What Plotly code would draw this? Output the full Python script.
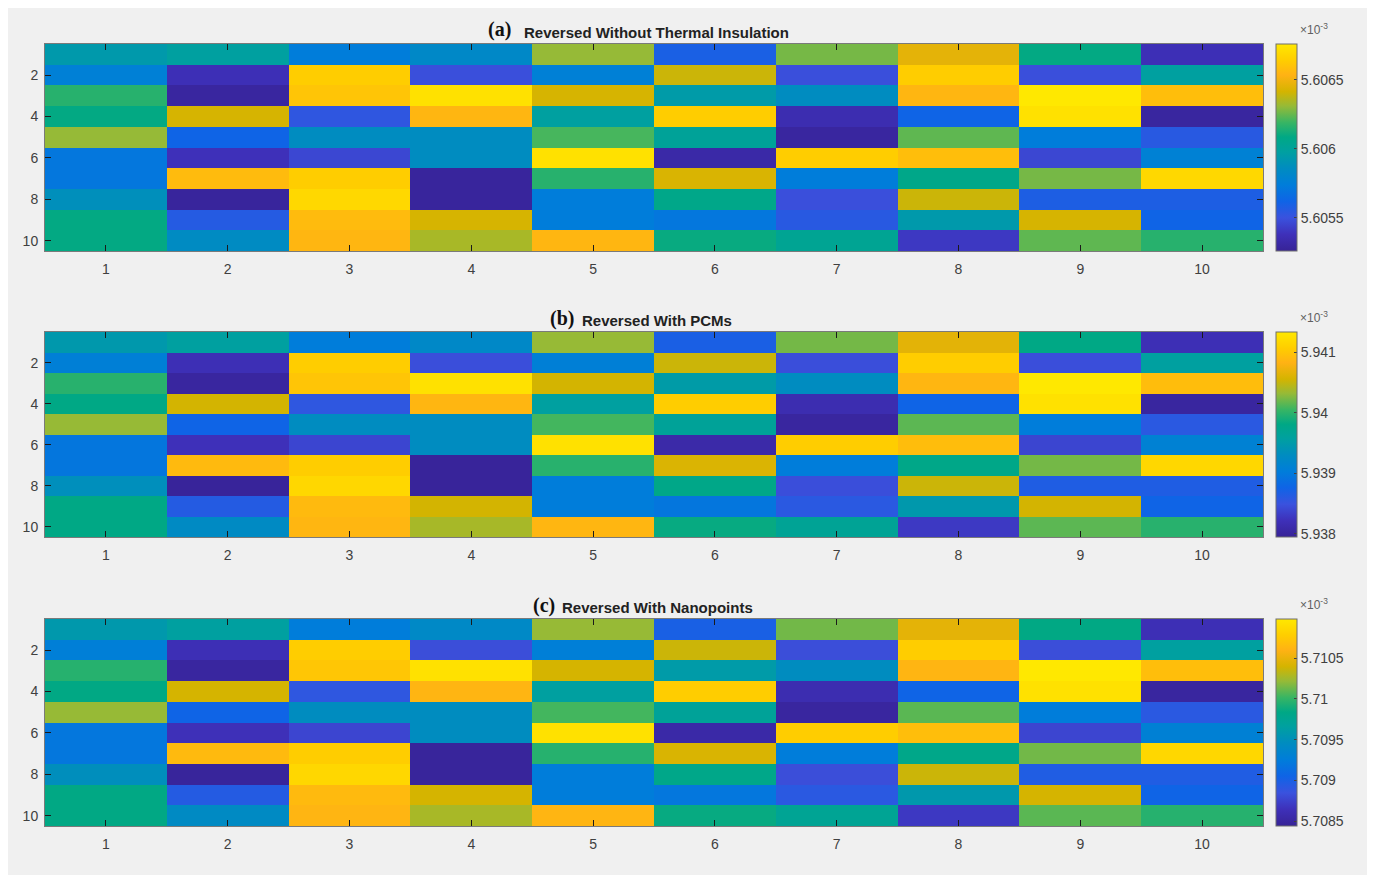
import plotly.graph_objects as go

rows = list(range(1, 11))
cols = list(range(1, 11))

# Panel (a) values (x10^-3)
vals_a = [
    [5.60594, 5.60598, 5.60574, 5.60583, 5.60631, 5.60559, 5.60627, 5.60646, 5.60609, 5.60537],
    [5.60576, 5.60537, 5.60664, 5.60549, 5.60576, 5.60640, 5.60549, 5.60664, 5.60549, 5.60598],
    [5.60616, 5.60529, 5.60661, 5.60673, 5.60642, 5.60595, 5.60586, 5.60655, 5.60676, 5.60658],
    [5.60609, 5.60642, 5.60553, 5.60655, 5.60598, 5.60664, 5.60535, 5.60562, 5.60673, 5.60529],
    [5.60631, 5.60562, 5.60586, 5.60586, 5.60621, 5.60601, 5.60529, 5.60624, 5.60574, 5.60555],
    [5.60571, 5.60538, 5.60546, 5.60586, 5.60673, 5.60532, 5.60664, 5.60658, 5.60546, 5.60577],
    [5.60571, 5.60657, 5.60664, 5.60528, 5.60616, 5.60643, 5.60574, 5.60607, 5.60627, 5.60669],
    [5.60588, 5.60528, 5.60669, 5.60528, 5.60574, 5.60607, 5.60549, 5.60640, 5.60558, 5.60558],
    [5.60609, 5.60556, 5.60657, 5.60642, 5.60574, 5.60571, 5.60555, 5.60594, 5.60642, 5.60562],
    [5.60609, 5.60585, 5.60655, 5.60634, 5.60655, 5.60610, 5.60603, 5.60541, 5.60624, 5.60616],
]
# Panel (b) values (x10^-3)
vals_b = [
    [5.93947, 5.93957, 5.93903, 5.93923, 5.94032, 5.93869, 5.94022, 5.94065, 5.93981, 5.93819],
    [5.93907, 5.93819, 5.94106, 5.93846, 5.93907, 5.94052, 5.93846, 5.94106, 5.93846, 5.93957],
    [5.93998, 5.93802, 5.94099, 5.94126, 5.94055, 5.93951, 5.93930, 5.94086, 5.94133, 5.94092],
    [5.93981, 5.94055, 5.93856, 5.94086, 5.93957, 5.94106, 5.93815, 5.93876, 5.94126, 5.93802],
    [5.94032, 5.93876, 5.93930, 5.93930, 5.94008, 5.93964, 5.93802, 5.94015, 5.93903, 5.93859],
    [5.93896, 5.93822, 5.93839, 5.93930, 5.94126, 5.93809, 5.94106, 5.94092, 5.93839, 5.93910],
    [5.93896, 5.94089, 5.94106, 5.93798, 5.93998, 5.94059, 5.93903, 5.93978, 5.94022, 5.94116],
    [5.93934, 5.93798, 5.94116, 5.93798, 5.93903, 5.93978, 5.93846, 5.94052, 5.93866, 5.93866],
    [5.93981, 5.93863, 5.94089, 5.94055, 5.93903, 5.93896, 5.93859, 5.93947, 5.94055, 5.93876],
    [5.93981, 5.93927, 5.94086, 5.94038, 5.94086, 5.93984, 5.93967, 5.93829, 5.94015, 5.93998],
]
# Panel (c) values (x10^-3)
vals_c = [
    [5.70958, 5.70966, 5.70925, 5.70941, 5.71022, 5.70900, 5.71014, 5.71047, 5.70984, 5.70862],
    [5.70928, 5.70862, 5.71078, 5.70882, 5.70928, 5.71037, 5.70882, 5.71078, 5.70882, 5.70966],
    [5.70996, 5.70849, 5.71073, 5.71093, 5.71040, 5.70961, 5.70946, 5.71062, 5.71098, 5.71068],
    [5.70984, 5.71040, 5.70890, 5.71062, 5.70966, 5.71078, 5.70859, 5.70905, 5.71093, 5.70849],
    [5.71022, 5.70905, 5.70946, 5.70946, 5.71004, 5.70971, 5.70849, 5.71009, 5.70925, 5.70892],
    [5.70920, 5.70864, 5.70877, 5.70946, 5.71093, 5.70854, 5.71078, 5.71068, 5.70877, 5.70930],
    [5.70920, 5.71065, 5.71078, 5.70847, 5.70996, 5.71042, 5.70925, 5.70981, 5.71014, 5.71085],
    [5.70948, 5.70847, 5.71085, 5.70847, 5.70925, 5.70981, 5.70882, 5.71037, 5.70897, 5.70897],
    [5.70984, 5.70895, 5.71065, 5.71040, 5.70925, 5.70920, 5.70892, 5.70958, 5.71040, 5.70905],
    [5.70984, 5.70943, 5.71062, 5.71027, 5.71062, 5.70986, 5.70974, 5.70869, 5.71009, 5.70996],
]

ranges = {"a": (5.60526, 5.60676), "b": (5.93795, 5.94133), "c": (5.70844, 5.71098)}
cb_ticks = {
    "a": ([5.6055, 5.606, 5.6065], ["5.6055", "5.606", "5.6065"]),
    "b": ([5.938, 5.939, 5.94, 5.941], ["5.938", "5.939", "5.94", "5.941"]),
    "c": ([5.7085, 5.709, 5.7095, 5.71, 5.7105], ["5.7085", "5.709", "5.7095", "5.71", "5.7105"]),
}
titles = {"a": "Reversed Without Thermal Insulation", "b": "Reversed With PCMs", "c": "Reversed With Nanopoints"}
x_ticks = cols
y_ticks = [2, 4, 6, 8, 10]

parula_like = [
    [0.00, "rgb(55,35,150)"],
    [0.08, "rgb(62,48,185)"],
    [0.16, "rgb(58,82,222)"],
    [0.24, "rgb(15,100,230)"],
    [0.32, "rgb(0,125,218)"],
    [0.40, "rgb(0,140,192)"],
    [0.48, "rgb(0,160,160)"],
    [0.55, "rgb(0,168,133)"],
    [0.62, "rgb(55,181,100)"],
    [0.70, "rgb(150,186,55)"],
    [0.77, "rgb(212,180,0)"],
    [0.85, "rgb(255,178,20)"],
    [0.92, "rgb(255,205,0)"],
    [1.00, "rgb(255,232,0)"],
]

W, H = 1375, 875
OFF = 8  # page margin offset of the figure in the screenshot
panels = [
    ("a", vals_a, 44, 251, "x", "y"),
    ("b", vals_b, 332, 537, "x2", "y2"),
    ("c", vals_c, 619, 826, "x3", "y3"),
]
x0, x1 = 45 - OFF, 1263 - OFF
title_left = {"a": 522, "b": 580, "c": 560}
label_right = {"a": 513, "b": 576, "c": 557}

fig = go.Figure()
layout = dict(
    width=W, height=H,
    margin=dict(l=0, r=0, t=0, b=0),
    paper_bgcolor="#f0f0f0",
    plot_bgcolor="#f0f0f0",
    showlegend=False,
    font=dict(family="Liberation Sans, Arial, sans-serif", size=14, color="#404040"),
)
annotations = []
for i, (key, vals, top, bot, xa, ya) in enumerate(panels):
    top -= OFF
    bot -= OFF
    lo, hi = ranges[key]
    tv, tt = cb_ticks[key]
    fig.add_trace(go.Heatmap(
        z=vals, x=cols, y=rows, xaxis=xa, yaxis=ya,
        colorscale=parula_like, zmin=lo, zmax=hi,
        colorbar=dict(
            x=(1276 - OFF) / W, xanchor="left", xpad=0, ypad=0,
            y=1 - top / H, yanchor="top", len=(bot - top) / H, lenmode="fraction",
            thickness=21, thicknessmode="pixels",
            outlinewidth=1, outlinecolor="#6e6e6e",
            tickvals=tv, ticktext=tt, ticks="inside", ticklen=3, tickcolor="#404040",
            tickfont=dict(size=14, color="#404040"),
        ),
    ))
    suffix = "" if i == 0 else str(i + 1)
    layout["xaxis" + suffix] = dict(
        domain=[x0 / W, x1 / W], anchor=ya, range=[0.5, 10.5],
        tickvals=x_ticks, ticks="inside", ticklen=6, tickwidth=1.2, tickcolor="#1a1a1a",
        showline=True, linecolor="#7a7a7a", linewidth=1, mirror="ticks",
        showgrid=False, zeroline=False, tickfont=dict(size=14, color="#404040"),
        ticklabelstandoff=5, layer="above traces",
    )
    layout["yaxis" + suffix] = dict(
        domain=[1 - bot / H, 1 - top / H], anchor=xa, range=[10.5, 0.5],
        tickvals=y_ticks, ticks="inside", ticklen=6, tickwidth=1.2, tickcolor="#1a1a1a",
        showline=True, linecolor="#7a7a7a", linewidth=1, mirror="ticks",
        showgrid=False, zeroline=False, tickfont=dict(size=14, color="#404040"),
        ticklabelstandoff=3, layer="above traces",
    )
    annotations.append(dict(
        text="<b>(%s)</b>" % key, xref="paper", yref="paper",
        x=(label_right[key] - OFF) / W, y=1 - (top - 14) / H, showarrow=False,
        font=dict(family="Liberation Serif, Times New Roman, serif", size=20, color="#111111"),
        xanchor="right", yanchor="middle",
    ))
    annotations.append(dict(
        text="<b>%s</b>" % titles[key], xref="paper", yref="paper",
        x=(title_left[key] - OFF) / W, y=1 - (top - 12) / H, showarrow=False,
        font=dict(family="Liberation Sans, Arial, sans-serif", size=15, color="#222222"),
        xanchor="left", yanchor="middle",
    ))
    annotations.append(dict(
        text="\u00d710<sup>-3</sup>", xref="paper", yref="paper",
        x=(1298 - OFF) / W, y=1 - (top - 15) / H, showarrow=False,
        font=dict(family="Liberation Sans, Arial, sans-serif", size=12, color="#606060"),
        xanchor="left", yanchor="middle",
    ))

layout["annotations"] = annotations
fig.update_layout(**layout)
fig.write_html("out.html")
